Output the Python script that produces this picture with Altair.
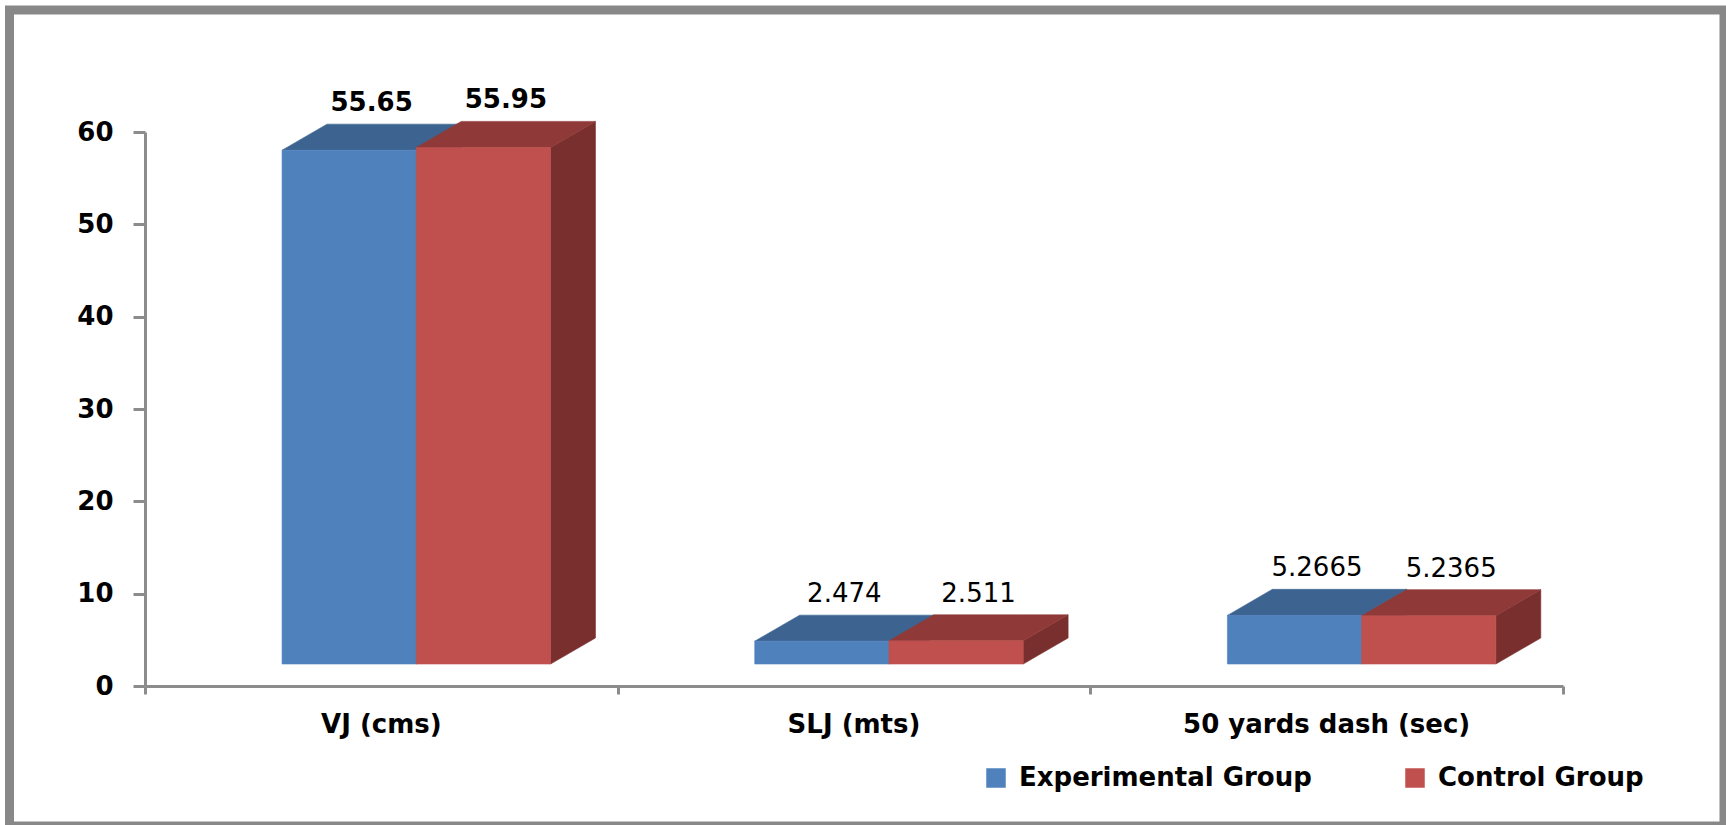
import altair as alt
import pandas as pd

# Test results per group
metrics = ["VJ (cms)", "SLJ (mts)", "50 yards dash (sec)"]
groups = ["Experimental Group", "Control Group"]
experimental = [55.65, 2.474, 5.2665]
control = [55.95, 2.511, 5.2365]

# Face colours: front, top, side
front_colors = ["#4F81BD", "#C0504D"]
top_colors = ["#3D6491", "#8F3A39"]
side_colors = ["#345578", "#7A2F2F"]

# Pseudo-3D geometry: x in category units, y in value units
BAR_LEFT = 0.29
BAR_W = 0.284
DEPTH_X = 0.095
DEPTH_Y = 2.82
FLOOR = 2.38

W, H = 1418, 554

series = {groups[0]: experimental, groups[1]: control}

fronts, tops, sides, labels = {}, {}, {}, []
for j, g in enumerate(groups):
    f_rows, t_rows, s_rows = [], [], []
    for i, (m, v) in enumerate(zip(metrics, series[g])):
        x0 = i + BAR_LEFT + j * BAR_W
        x1 = x0 + BAR_W
        top = FLOOR + v
        bid = f"{g}|{m}"
        f_rows.append({"group": g, "metric": m, "x": x0, "x2": x1, "y": FLOOR, "y2": top})
        t_rows += [
            {"bar": bid, "x": x0, "y": top, "y2": top},
            {"bar": bid, "x": x0 + DEPTH_X, "y": top + DEPTH_Y, "y2": top},
            {"bar": bid, "x": x1, "y": top + DEPTH_Y, "y2": top},
            {"bar": bid, "x": x1 + DEPTH_X, "y": top + DEPTH_Y, "y2": top + DEPTH_Y},
        ]
        s_rows += [
            {"bar": bid, "x": x1, "y": top, "y2": FLOOR},
            {"bar": bid, "x": x1 + DEPTH_X, "y": top + DEPTH_Y, "y2": FLOOR + DEPTH_Y},
        ]
        labels.append({
            "metric": m, "value": v, "text": f"{v:g}",
            "x": (x0 + x1) / 2 + DEPTH_X / 2, "y": top + DEPTH_Y,
        })
    fronts[g] = pd.DataFrame(f_rows)
    tops[g] = pd.DataFrame(t_rows)
    sides[g] = pd.DataFrame(s_rows)

labels_df = pd.DataFrame(labels)
cats_df = pd.DataFrame({"metric": metrics, "x": [i + 0.5 for i in range(len(metrics))]})

AXIS_GRAY = "#8C8C8C"
FONT = "DejaVu Sans"

x_axis = alt.Axis(values=[0, 1, 2, 3], labels=False, title=None, grid=False,
                  tickSize=8, tickWidth=3, tickColor=AXIS_GRAY,
                  domainColor=AXIS_GRAY, domainWidth=3)
y_axis = alt.Axis(values=[0, 10, 20, 30, 40, 50, 60], title=None, grid=False,
                  tickSize=12, tickWidth=3, tickColor=AXIS_GRAY,
                  domainColor=AXIS_GRAY, domainWidth=3,
                  labelFont=FONT, labelFontSize=26, labelFontWeight="bold",
                  labelColor="black", labelPadding=20)
x_scale = alt.Scale(domain=[0, 3], nice=False, zero=False)
y_scale = alt.Scale(domain=[0, 60], nice=False, zero=False)


def X(field="x"):
    return alt.X(f"{field}:Q", scale=x_scale, axis=x_axis)


def Y(field="y"):
    return alt.Y(f"{field}:Q", scale=y_scale, axis=y_axis, stack=None)


layers = []
for j, g in enumerate(groups):
    # side face, then top face, then front face of each bar series
    side = alt.Chart(sides[g]).mark_area(
        color=side_colors[j], stroke=side_colors[j], strokeWidth=0.6, interpolate="linear"
    ).encode(x=X(), y=Y(), y2="y2:Q", detail="bar:N")
    topf = alt.Chart(tops[g]).mark_area(
        color=top_colors[j], stroke=top_colors[j], strokeWidth=0.6, interpolate="linear"
    ).encode(x=X(), y=Y(), y2="y2:Q", detail="bar:N")
    front = alt.Chart(fronts[g]).mark_rect(
        stroke=front_colors[j], strokeWidth=0.6
    ).encode(
        x=X(), x2="x2:Q", y=Y(), y2="y2:Q",
        color=alt.Color(
            "group:N",
            scale=alt.Scale(domain=groups, range=front_colors),
            legend=alt.Legend(
                title=None, orient="none", direction="horizontal",
                legendX=838, legendY=633, symbolType="square", symbolSize=380,
                symbolStrokeWidth=0, labelFont=FONT, labelFontSize=26,
                labelFontWeight="bold", labelColor="black", labelOffset=10,
                columnPadding=90, labelLimit=400,
            ),
        ),
    )
    layers += [side, topf, front]

bold_labels = alt.Chart(labels_df).transform_filter(
    alt.datum.metric == metrics[0]
).mark_text(font=FONT, fontSize=26, fontWeight="bold", color="black",
            baseline="middle", dy=-21).encode(x=X(), y=Y(), text="text:N")

plain_labels = alt.Chart(labels_df).transform_filter(
    alt.datum.metric != metrics[0]
).mark_text(font=FONT, fontSize=26, color="black",
            baseline="middle", dy=-21).encode(x=X(), y=Y(), text="text:N")

cat_labels = alt.Chart(cats_df).mark_text(
    font=FONT, fontSize=26, fontWeight="bold", color="black", baseline="middle"
).encode(x=X(), y=alt.value(H + 39), text="metric:N")

frame = alt.Chart(alt.Data(values=[{}])).mark_rect(
    filled=False, stroke="#888888", strokeWidth=9
).encode(x=alt.value(-135.5), x2=alt.value(1579), y=alt.value(-122), y2=alt.value(694))

chart = alt.layer(*layers, bold_labels, plain_labels, cat_labels, frame).properties(
    width=W, height=H,
    autosize=alt.AutoSizeParams(type="none"),
    padding={"left": 145, "top": 132, "right": 163, "bottom": 139},
    background="white",
).configure_view(stroke=None)

chart.save("out.html", embed_options={"renderer": "svg", "actions": False})
